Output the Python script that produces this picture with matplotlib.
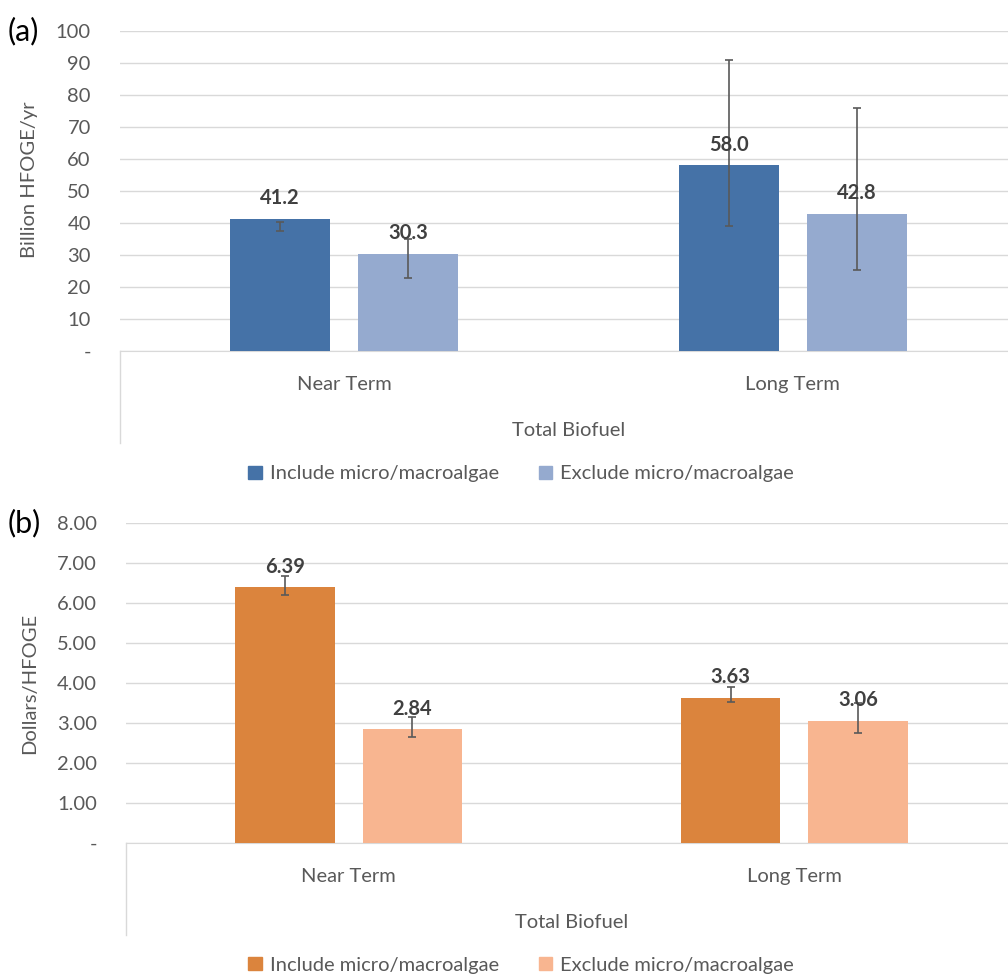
import numpy as np
import matplotlib.pyplot as plt
from matplotlib.ticker import FuncFormatter
from matplotlib.patches import Patch

plt.rcParams['font.family'] = ['Lato', 'DejaVu Sans']

cats = ['Near Term', 'Long Term']
series = ['Include micro/macroalgae', 'Exclude micro/macroalgae']

# (a) production, billion HFOGE/yr
prod_incl = [41.2, 58.0]
prod_excl = [30.3, 42.8]
prod_incl_lo = [37.5, 39.0]
prod_incl_hi = [40.4, 91.0]
prod_excl_lo = [22.8, 25.3]
prod_excl_hi = [35.0, 76.0]

# (b) cost, dollars/HFOGE
cost_incl = [6.39, 3.63]
cost_excl = [2.84, 3.06]
cost_incl_lo = [6.20, 3.52]
cost_incl_hi = [6.68, 3.91]
cost_excl_lo = [2.66, 2.76]
cost_excl_hi = [3.15, 3.50]

grid_c = '#D9D9D9'
tick_c = '#595959'
lab_c = '#404040'
fs = 14.5

fig = plt.figure(figsize=(10.08, 9.76), dpi=100)


def panel(rect, incl, excl, lo_i, hi_i, lo_e, hi_e, colors, ymax, step,
          fmt, ylabel, ylab_y, tag, tag_y, leg_y):
    ax = fig.add_axes(rect)
    x = np.arange(len(cats))
    w = 0.223
    off = 0.143
    for vals, lo, hi, dx, c in [(incl, lo_i, hi_i, -off, colors[0]),
                                (excl, lo_e, hi_e, off, colors[1])]:
        ax.bar(x + dx, vals, w, color=c, zorder=2)
        lo = np.array(lo)
        hi = np.array(hi)
        ax.errorbar(x + dx, (lo + hi) / 2, yerr=(hi - lo) / 2, fmt='none',
                    ecolor='#595959', elinewidth=1.2, capsize=3.2,
                    capthick=1.2, zorder=3)
        for xi, v in zip(x + dx, vals):
            ax.annotate(fmt.format(v), (xi, v), xytext=(0, 15),
                        textcoords='offset points', ha='center', va='center',
                        fontsize=fs, fontweight='bold', color=lab_c, zorder=4)
    ax.set_xlim(-0.5, 1.5)
    ax.set_ylim(0, ymax)
    ax.set_yticks(np.arange(0, ymax + step / 2, step))
    ax.yaxis.set_major_formatter(FuncFormatter(
        lambda v, p: '-' if v == 0 else (('%.0f' if ymax > 10 else '%.2f') % v)))
    ax.grid(axis='y', color=grid_c, lw=1, zorder=0)
    for s in ['top', 'right', 'left']:
        ax.spines[s].set_visible(False)
    ax.spines['bottom'].set_color(grid_c)
    ax.spines['bottom'].set_zorder(1)
    ax.plot([0, 0], [0, -0.2875], transform=ax.transAxes, color=grid_c,
            lw=1, clip_on=False)
    ax.set_xticks(x)
    ax.set_xticklabels(cats)
    ax.tick_params(axis='both', length=0, labelsize=fs, labelcolor=tick_c)
    ax.tick_params(axis='y', pad=21)
    ax.tick_params(axis='x', pad=18)
    ax.set_xlabel('Total Biofuel', fontsize=fs, color=tick_c, labelpad=21)
    ax.set_ylabel(ylabel, fontsize=fs, color=tick_c)
    left_px = rect[0] * 1008
    ax.yaxis.set_label_coords((38 - left_px) / (rect[2] * 1008), ylab_y)
    fig.text(8 / 1008, tag_y, tag, fontsize=22, color='black',
             ha='left', va='center')
    handles = [Patch(color=c) for c in colors]
    fig.legend(handles, series, loc='center', bbox_to_anchor=(0.517, leg_y),
               ncol=2, frameon=False, fontsize=fs, labelcolor=tick_c,
               handlelength=0.65, handleheight=0.65, handletextpad=0.4,
               columnspacing=2.0)
    return ax


panel([120 / 1008, 1 - 351 / 976, (1017 - 120) / 1008, 320 / 976],
      prod_incl, prod_excl, prod_incl_lo, prod_incl_hi, prod_excl_lo, prod_excl_hi,
      ['#4572A7', '#95AACF'], 100, 10, '{:.1f}', 'Billion HFOGE/yr', 0.535,
      '(a)', 1 - 31 / 976, 1 - 474 / 976)

panel([126 / 1008, 1 - 843 / 976, (1017 - 126) / 1008, 320 / 976],
      cost_incl, cost_excl, cost_incl_lo, cost_incl_hi, cost_excl_lo, cost_excl_hi,
      ['#DB843D', '#F8B590'], 8, 1, '{:.2f}', 'Dollars/HFOGE', 0.5,
      '(b)', 1 - 523 / 976, 1 - 965 / 976)

fig.savefig('out.png', dpi=100)
